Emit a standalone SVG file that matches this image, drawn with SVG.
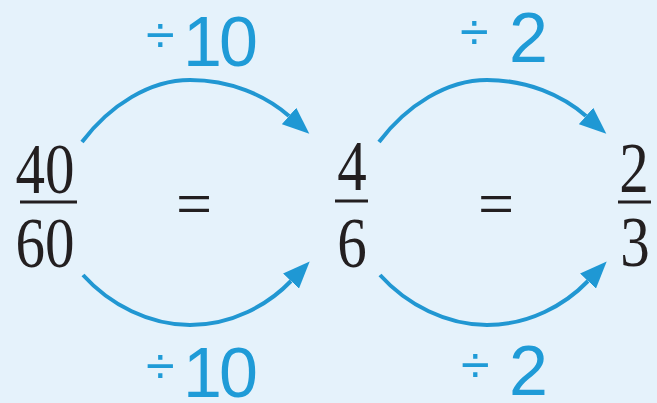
<svg xmlns="http://www.w3.org/2000/svg" width="657" height="403" viewBox="0 0 657 403">
<style>
.num{font-family:"Liberation Serif","Times New Roman",serif;font-size:72px;fill:#231f20;text-anchor:middle}
.eq{font-family:"Liberation Serif","Times New Roman",serif;font-size:64px;fill:#231f20;text-anchor:middle}
.lab{font-family:"Liberation Sans",Arial,sans-serif;font-size:70px;fill:#1f9bd7}
.div{font-family:"Liberation Sans",Arial,sans-serif;font-size:52px;fill:#1f9bd7}
.arc{fill:none;stroke:#2197d2;stroke-width:4;marker-end:url(#ah)}
.bar{stroke:#231f20;stroke-width:3}
</style>
<defs>
<marker id="ah" markerUnits="userSpaceOnUse" viewBox="0 -11 28 22" markerWidth="28" markerHeight="22" refX="0" refY="0" orient="auto">
<path d="M0,-11 L27,0 L0,11 z" fill="#1f98d4"/>
</marker>
</defs>
<rect width="657" height="403" fill="#e5f2fb"/>
<g id="connectors">
<path class="arc" d="M82,142 C110,105 150,80 190,80 C230,80 265,95 289,116"/>
<path class="arc" transform="translate(297,0)" d="M82,142 C110,105 150,80 190,80 C230,80 265,95 289,116"/>
<path class="arc" d="M83,275 C110,305 150,325 190,325 C232,325 268,305 291,281"/>
<path class="arc" transform="translate(297,0)" d="M83,275 C110,305 150,325 190,325 C232,325 268,305 291,281"/>
</g>
<g id="label-top-1"><text class="lab" y="66"><tspan class="div" x="146" y="53">÷</tspan><tspan x="183" y="66" letter-spacing="-3">10</tspan></text></g>
<g id="label-top-2"><text class="lab" y="62"><tspan class="div" x="460" y="50">÷</tspan><tspan x="509" y="62">2</tspan></text></g>
<g id="label-bot-1"><text class="lab" y="397"><tspan class="div" x="146" y="384">÷</tspan><tspan x="183" y="397" letter-spacing="-3">10</tspan></text></g>
<g id="label-bot-2"><text class="lab" y="395"><tspan class="div" x="461" y="383">÷</tspan><tspan x="509" y="395">2</tspan></text></g>
<g id="frac-40-60">
<text class="num" transform="translate(45,193) scale(0.82,1)">40</text>
<line class="bar" x1="20" y1="202" x2="77" y2="202"/>
<text class="num" transform="translate(45,267) scale(0.82,1)">60</text>
</g>
<g id="eq-1"><text class="eq" x="194" y="225">=</text></g>
<g id="frac-4-6">
<text class="num" transform="translate(352,190) scale(0.82,1)">4</text>
<line class="bar" x1="335" y1="201" x2="368" y2="201"/>
<text class="num" transform="translate(352,267) scale(0.82,1)">6</text>
</g>
<g id="eq-2"><text class="eq" x="496" y="225">=</text></g>
<g id="frac-2-3">
<text class="num" transform="translate(634,192) scale(0.82,1)">2</text>
<line class="bar" x1="618" y1="202" x2="651" y2="202"/>
<text class="num" transform="translate(635,266) scale(0.82,1)">3</text>
</g>
</svg>
